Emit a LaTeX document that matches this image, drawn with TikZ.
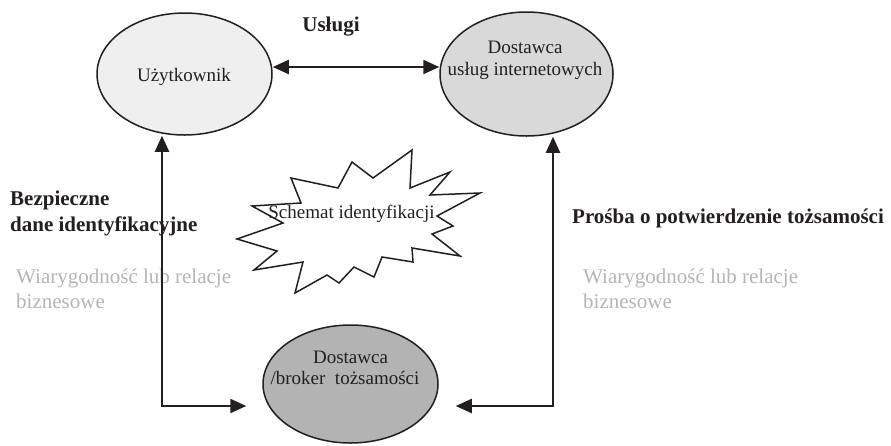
\documentclass[tikz,border=0pt]{standalone}
\usepackage{fontspec}
\setmainfont{Liberation Serif}
\usetikzlibrary{shapes.geometric,arrows.meta}
\definecolor{ink}{HTML}{231F20}
\definecolor{fillA}{HTML}{EFEFEF}
\definecolor{fillB}{HTML}{D9D9D9}
\definecolor{fillC}{HTML}{B3B3B3}
\definecolor{soft}{HTML}{B5B5B5}
\begin{document}
\begin{tikzpicture}[x=1pt,y=-1pt,
  oval/.style={ellipse,draw=ink,line width=1.5pt,inner sep=0pt},
  intext/.style={font=\fontsize{19}{22}\selectfont,text=ink,anchor=base,inner sep=0pt},
  boldlbl/.style={font=\fontsize{21}{25}\selectfont\bfseries,text=ink,anchor=base west,inner sep=0pt},
  graylbl/.style={font=\fontsize{21}{25}\selectfont,text=soft,anchor=base west,inner sep=0pt},
  conn/.style={draw=ink,line width=2.2pt,{Triangle[length=16pt,width=14pt]}-{Triangle[length=16pt,width=14pt]}},
  starline/.style={draw=ink,line width=1.5pt,line join=miter},
]
\useasboundingbox (0,0) rectangle (891,445);

% side labels
\node[boldlbl] (bez1) at (10,205) {Bezpieczne};
\node[boldlbl] (bez2) at (10,231) {dane identyfikacyjne};
\node[graylbl] (wl1) at (16,283) {Wiarygodność lub relacje};
\node[graylbl] (wl2) at (16,308) {biznesowe};
\node[boldlbl] (pro) at (572,223) {Prośba o potwierdzenie tożsamości};
\node[graylbl] (wr1) at (583,283) {Wiarygodność lub relacje};
\node[graylbl] (wr2) at (583,308) {biznesowe};
\node[boldlbl,anchor=base] (usl) at (331,31) {Usługi};

% ellipses
\node[oval,fill=fillA,minimum width=175pt,minimum height=122pt] (user) at (184.5,74) {};
\node[oval,fill=fillB,minimum width=173pt,minimum height=124pt] (isp) at (526.5,74) {};
\node[oval,fill=fillC,minimum width=175pt,minimum height=118pt] (idp) at (350.5,384) {};

\node[intext] (userT) at (184,81) {Użytkownik};
\node[intext] (ispT1) at (525,53) {Dostawca};
\node[intext] (ispT2) at (525,75) {usług internetowych};
\node[intext] (idpT1) at (350.5,363) {Dostawca};
\node[intext] (idpT2) at (345,384) {/broker\hspace{0.5em}tożsamości};

% connectors
\coordinate (lc) at (162,406);
\coordinate (rc) at (553,406);
\draw[conn] ([yshift=7pt]user.east) -- ([yshift=7pt]isp.west);
\draw[conn] (user.south -| lc) -- (lc) -- ([xshift=-16pt]idp.west |- lc);
\draw[conn] (isp.south -| rc) -- (rc) -- ([xshift=17pt]idp.east |- rc);

% star
\draw[starline] (291,178) -- (338,188) -- (352,162) -- (373,178) -- (412,150)
  -- (410,188) -- (450,172) -- (430,195) -- (480,193) -- (437,216)
  -- (453,226) -- (432,234) -- (460,256) -- (412,248) -- (413,262)
  -- (382,257) -- (374,277) -- (354,267) -- (339,283) -- (327,275)
  -- (295,293) -- (303,262) -- (254,270) -- (277,251) -- (237,239)
  -- (283,223) -- (252,206) -- (301,203) -- cycle;
\node[intext] (schem) at (351.5,218) {Schemat identyfikacji};
\end{tikzpicture}
\end{document}
